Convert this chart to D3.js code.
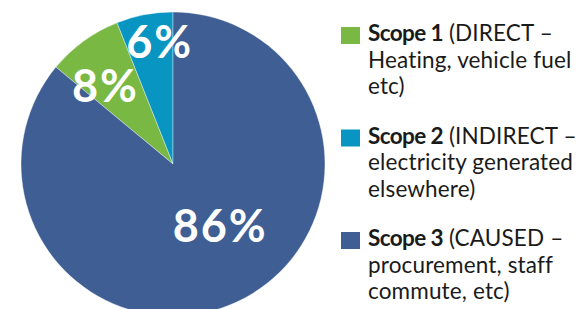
<!DOCTYPE html>
<html>
<head>
<meta charset="utf-8">
<script src="https://cdn.jsdelivr.net/npm/d3@7"></script>
<style>
  body { margin: 0; background: #fff; }
  svg { display: block; }
</style>
</head>
<body>
<div class="visualization"></div>
<script>
const scopes = ["Scope 1", "Scope 2", "Scope 3"];
const shares = [8, 6, 86];
const descLines = [
    ["(DIRECT \u2013", "Heating, vehicle fuel", "etc)"],
    ["(INDIRECT \u2013", "electricity generated", "elsewhere)"],
    ["(CAUSED \u2013", "procurement, staff", "commute, etc)"]
];
const colors = ["#7ab844", "#0895c2", "#3e5e94"];

const width = 586, height = 309;
const cx = 173, cy = 164, radius = 152;

const svg = d3.select(".visualization")
    .append("svg")
    .attr("width", width)
    .attr("height", height);

// scope 1 + 2 sit just left of 12 o'clock, scope 3 runs clockwise from the top
const total = d3.sum(shares);
const start = -2 * Math.PI * (shares[0] + shares[1]) / total;

const pie = d3.pie().sort(null).value(d => d.value)
    .startAngle(start).endAngle(start + 2 * Math.PI);

const data = scopes.map((s, i) => ({ name: s, value: shares[i], color: colors[i], lines: descLines[i] }));
const arcs = pie(data);

const arc = d3.arc().innerRadius(0).outerRadius(radius);

const g = svg.append("g").attr("transform", `translate(${cx},${cy})`);

g.selectAll("path")
    .data(arcs)
    .join("path")
    .attr("d", arc)
    .attr("fill", d => d.data.color)
    .attr("stroke", "#fff")
    .attr("stroke-width", 0.4);

// label placement: radius + angle nudge per slice
const labelRadius = [103, 122, 78];
const labelShift = [-5, 4.5, -12];

g.selectAll("text.pct")
    .data(arcs)
    .join("text")
    .attr("class", "pct")
    .attr("transform", (d, i) => {
        const a = (d.startAngle + d.endAngle) / 2 + labelShift[i] * Math.PI / 180;
        const r = labelRadius[i];
        return `translate(${r * Math.sin(a)},${-r * Math.cos(a)})`;
    })
    .attr("text-anchor", "middle")
    .attr("dy", "0.35em")
    .attr("fill", "#fff")
    .attr("font-family", "Lato, 'Open Sans', sans-serif")
    .attr("font-weight", 700)
    .attr("font-size", 45)
    .attr("letter-spacing", 2)
    .text(d => d.data.value + "%");

// legend
const y = d3.scalePoint().domain(scopes).range([41, 246]);
const lineH = 26.5;

const leg = svg.append("g")
    .attr("font-family", "Lato, 'Open Sans', sans-serif")
    .attr("font-size", 22.5)
    .attr("letter-spacing", 0.15)
    .attr("fill", "#1a1a1a");

const item = leg.selectAll("g")
    .data(data)
    .join("g")
    .attr("transform", d => `translate(341,${y(d.name)})`);

item.append("rect")
    .attr("x", 0)
    .attr("y", -14)
    .attr("width", 19)
    .attr("height", 17)
    .attr("fill", d => d.color);

item.each(function (d) {
    const t = d3.select(this).append("text").attr("x", 27);
    t.append("tspan").attr("font-weight", 700).attr("letter-spacing", -0.6).text(d.name);
    t.append("tspan").text(" " + d.lines[0]);
    d.lines.slice(1).forEach((l, k) => {
        d3.select(this).append("text")
            .attr("x", 27)
            .attr("y", (k + 1) * lineH)
            .text(l);
    });
});
</script>
</body>
</html>
